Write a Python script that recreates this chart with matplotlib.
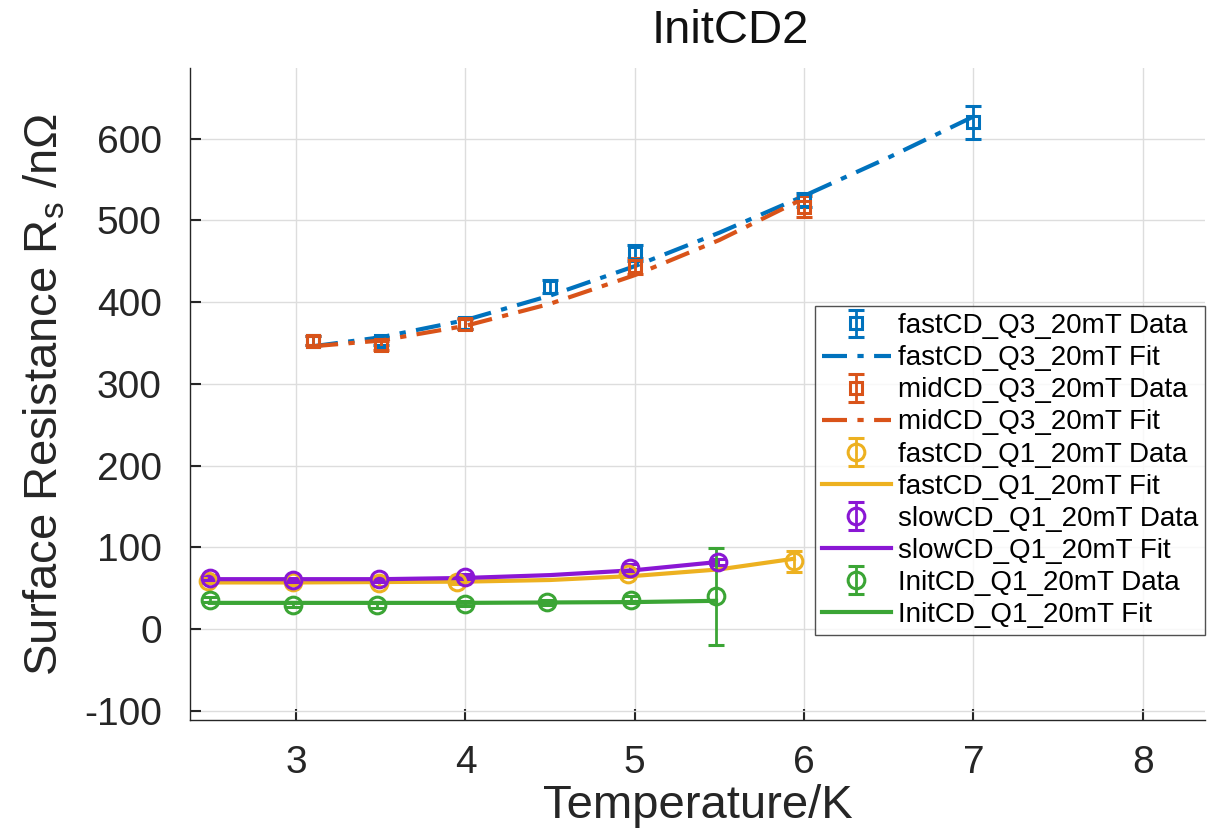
import matplotlib.pyplot as plt

plt.rcParams['font.family'] = ['Liberation Sans', 'DejaVu Sans']
plt.rcParams['mathtext.fontset'] = 'custom'
plt.rcParams['mathtext.rm'] = 'Liberation Sans'
plt.rcParams['axes.unicode_minus'] = False

# measured data (temperature in K, Rs in nOhm, error in nOhm)
fastQ3_T = [3.1, 3.5, 4.0, 4.5, 5.0, 6.0, 7.0]
fastQ3_R = [353, 352, 374, 419, 460, 525, 620]
fastQ3_err = [5, 5, 7, 8, 10, 9, 20]

midQ3_T = [3.1, 3.5, 4.0, 5.0, 6.0]
midQ3_R = [353, 347, 373, 444, 517]
midQ3_err = [5, 6, 6, 10, 13]

fastQ1_T = [2.48, 2.98, 3.49, 3.95, 4.96, 5.94]
fastQ1_R = [59, 57, 56, 58, 67, 83]
fastQ1_err = [3, 3, 3, 3, 3, 13]

slowQ1_T = [2.49, 2.98, 3.49, 4.0, 4.97, 5.49]
slowQ1_R = [63, 60, 61, 64, 75, 82]
slowQ1_err = [3, 3, 3, 3, 4, 4]

initQ1_T = [2.49, 2.98, 3.48, 4.0, 4.48, 4.98, 5.48]
initQ1_R = [36, 30, 29, 31, 33, 36, 40]
initQ1_err = [3, 3, 3, 3, 3, 4, 59]

# fit curves
fastQ3_fitT = [3.1, 3.5, 4.0, 4.5, 5.0, 5.5, 6.0, 6.5, 7.0]
fastQ3_fitR = [346, 357, 378, 408, 444, 485, 530, 577, 627]
midQ3_fitT = [3.1, 3.5, 4.0, 4.5, 5.0, 5.5, 6.0]
midQ3_fitR = [346, 353, 371, 398, 433, 476, 527]
fastQ1_fitT = [2.48, 3.0, 3.5, 4.0, 4.5, 5.0, 5.5, 5.94]
fastQ1_fitR = [57, 57, 57.5, 58, 60, 65, 73, 86]
slowQ1_fitT = [2.49, 3.0, 3.5, 4.0, 4.5, 5.0, 5.49]
slowQ1_fitR = [61, 61, 61, 62.5, 66, 72, 82]
initQ1_fitT = [2.49, 3.0, 3.5, 4.0, 4.5, 5.0, 5.48]
initQ1_fitR = [32, 32, 32, 32, 32.5, 33, 34.5]

blue = '#0072BD'
orange = '#D95319'
yellow = '#EDB120'
purple = '#8A17D4'
green = '#3BA535'

fig = plt.figure(figsize=(12.15, 8.34), dpi=100)
ax = fig.add_axes([0.156, 0.137, 0.836, 0.781])

eb = dict(linestyle='none', markerfacecolor='none', markeredgewidth=2.2,
          elinewidth=2, capsize=6, capthick=2)
dashdot = (0, (6, 2.5, 1.5, 2.5))

h = []
h.append(ax.errorbar(fastQ3_T, fastQ3_R, yerr=fastQ3_err, marker='s', markersize=8,
                     color=blue, label='fastCD_Q3_20mT Data', **eb))
h += ax.plot(fastQ3_fitT, fastQ3_fitR, linestyle=dashdot, color=blue, lw=3,
             label='fastCD_Q3_20mT Fit')
h.append(ax.errorbar(midQ3_T, midQ3_R, yerr=midQ3_err, marker='s', markersize=8,
                     color=orange, label='midCD_Q3_20mT Data', **eb))
h += ax.plot(midQ3_fitT, midQ3_fitR, linestyle=dashdot, color=orange, lw=3,
             label='midCD_Q3_20mT Fit')
h.append(ax.errorbar(fastQ1_T, fastQ1_R, yerr=fastQ1_err, marker='o', markersize=12,
                     color=yellow, label='fastCD_Q1_20mT Data', **eb))
h += ax.plot(fastQ1_fitT, fastQ1_fitR, '-', color=yellow, lw=3,
             label='fastCD_Q1_20mT Fit')
h.append(ax.errorbar(slowQ1_T, slowQ1_R, yerr=slowQ1_err, marker='o', markersize=12,
                     color=purple, label='slowCD_Q1_20mT Data', **eb))
h += ax.plot(slowQ1_fitT, slowQ1_fitR, '-', color=purple, lw=3,
             label='slowCD_Q1_20mT Fit')
h.append(ax.errorbar(initQ1_T, initQ1_R, yerr=initQ1_err, marker='o', markersize=12,
                     color=green, label='InitCD_Q1_20mT Data', **eb))
h += ax.plot(initQ1_fitT, initQ1_fitR, '-', color=green, lw=3,
             label='InitCD_Q1_20mT Fit')

ax.set_xlim(2.37, 8.37)
ax.set_ylim(-111, 686)
ax.set_xticks([3, 4, 5, 6, 7, 8])
ax.set_yticks([-100, 0, 100, 200, 300, 400, 500, 600])
ax.grid(True, color='#dddddd', linewidth=1)
ax.set_axisbelow(True)
ax.spines['top'].set_visible(False)
ax.spines['right'].set_visible(False)
for s in ['left', 'bottom']:
    ax.spines[s].set_color('#262626')
    ax.spines[s].set_linewidth(1)
ax.tick_params(direction='in', length=8, width=1.5, labelsize=28,
               colors='#262626')
ax.tick_params(axis='y', pad=20)
ax.tick_params(axis='x', pad=18)

ax.set_xlabel('Temperature/K', fontsize=34, color='#262626', labelpad=2)
ax.set_ylabel(r'Surface Resistance R$_\mathrm{s}$ /n$\Omega$', fontsize=34,
              color='#262626', labelpad=12)
ax.set_title('InitCD2', fontsize=34, color='#111111', pad=18, x=0.532)

leg = ax.legend(handles=h, loc='lower right', bbox_to_anchor=(1.0, 0.13),
                fontsize=20, frameon=True, fancybox=False, edgecolor='#262626',
                handlelength=2.5, handletextpad=0.25, labelspacing=0.22,
                borderpad=0.25, borderaxespad=0)
leg.get_frame().set_linewidth(1)

fig.savefig('out.png', dpi=100)
